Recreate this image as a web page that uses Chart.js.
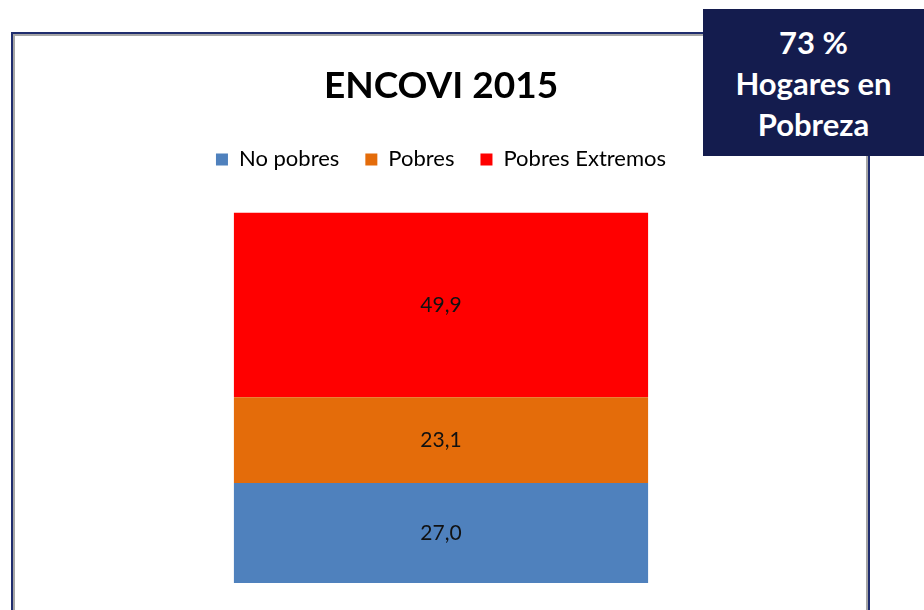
<!DOCTYPE html>
<html>
<head>
<meta charset="utf-8">
<script src="https://cdn.jsdelivr.net/npm/chart.js@4/dist/chart.umd.min.js"></script>
<style>
  html, body { margin: 0; padding: 0; background: #fff; }
  body { width: 924px; height: 610px; position: relative; overflow: hidden; font-family: Lato, "Open Sans", sans-serif; }
  #frame {
    position: absolute; left: 11px; top: 32px; width: 855px; height: 600px;
    border: 2px solid #1F2D6E; box-shadow: inset 2px 2px 0 #A6A6A6, inset -2px 0 0 #A6A6A6;
  }
  #wrap { position: absolute; left: 14px; top: 34px; width: 854px; height: 576px; }
  #badge {
    position: absolute; left: 703px; top: 9px; width: 221px; height: 147px;
    background: #141C4E; color: #fff; font-weight: bold; font-size: 31px;
    text-align: center; line-height: 41px; padding-top: 13px; box-sizing: border-box;
  }
</style>
</head>
<body>
<div id="frame"></div>
<div id="wrap"><canvas id="chart"></canvas></div>
<div id="badge">73 %<br>Hogares en<br>Pobreza</div>
<script>
const categories = ['2015'];
const seriesNames = ['No pobres', 'Pobres', 'Pobres Extremos'];
const noPobres = [27.0];
const pobres = [23.1];
const pobresExtremos = [49.9];
const colors = ['#4F81BD', '#E46C0A', '#FF0000'];

// draws the value inside each segment, comma decimal
const valueLabels = {
  id: 'valueLabels',
  afterDatasetsDraw(chart) {
    const ctx = chart.ctx;
    ctx.save();
    ctx.font = '21px Lato, "Open Sans", sans-serif';
    ctx.fillStyle = '#111';
    ctx.textAlign = 'center';
    ctx.textBaseline = 'middle';
    chart.data.datasets.forEach((ds, i) => {
      chart.getDatasetMeta(i).data.forEach((bar, j) => {
        const v = ds.data[j].toFixed(1).replace('.', ',');
        ctx.fillText(v, bar.x, (bar.y + bar.base) / 2);
      });
    });
    ctx.restore();
  }
};

// extra room under the legend
const legendGap = {
  id: 'legendGap',
  beforeInit(chart) {
    const fit = chart.legend.fit;
    chart.legend.fit = function () {
      fit.bind(chart.legend)();
      this.height += 32;
    };
  }
};

const series = [noPobres, pobres, pobresExtremos];

new Chart(document.getElementById('chart'), {
  type: 'bar',
  data: {
    labels: categories,
    datasets: seriesNames.map((name, i) => ({
      label: name,
      data: series[i],
      backgroundColor: colors[i],
      categoryPercentage: 1,
      barPercentage: 0.485
    }))
  },
  options: {
    responsive: true,
    maintainAspectRatio: false,
    animation: false,
    layout: { padding: { top: 30, bottom: 27 } },
    scales: {
      x: { stacked: true, display: false },
      y: { stacked: true, display: false, min: 0, max: 100 }
    },
    plugins: {
      title: {
        display: true,
        text: 'ENCOVI 2015',
        color: '#000',
        font: { family: 'Lato, "Open Sans", sans-serif', size: 37, weight: 'bold' },
        padding: { top: 0, bottom: 14 }
      },
      legend: {
        position: 'top',
        labels: {
          color: '#000',
          boxWidth: 12,
          boxHeight: 12,
          padding: 26,
          font: { family: 'Lato, "Open Sans", sans-serif', size: 22 }
        }
      },
      tooltip: { enabled: false }
    }
  },
  plugins: [valueLabels, legendGap]
});
</script>
</body>
</html>
